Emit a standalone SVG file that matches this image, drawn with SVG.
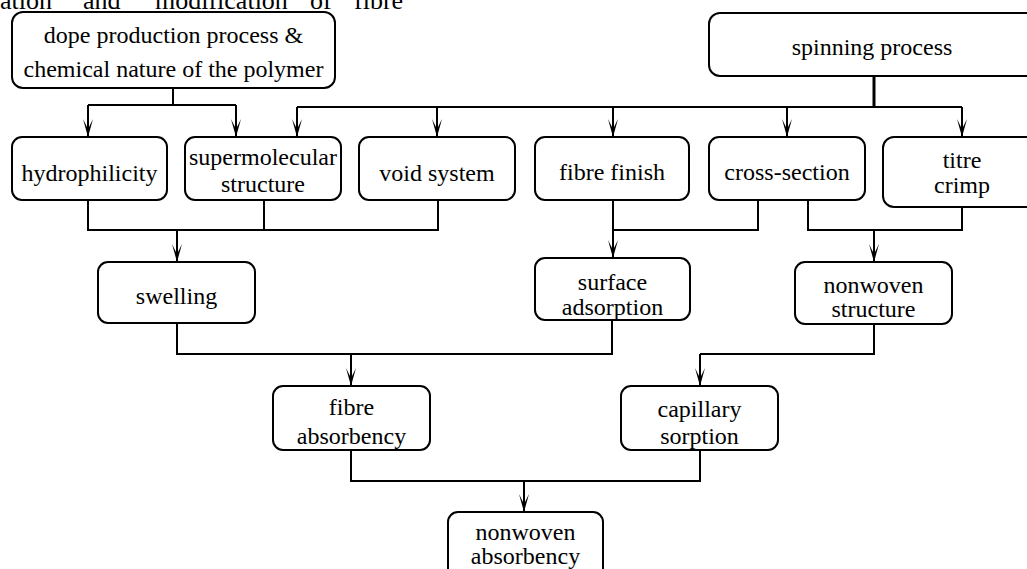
<svg xmlns="http://www.w3.org/2000/svg" width="1027" height="569" viewBox="0 0 1027 569">
<style>
.box{fill:#fff;stroke:#000;stroke-width:2}
.t{font-family:"Liberation Serif","Times New Roman",serif;font-size:24px;fill:#000;text-anchor:middle}
.cap{font-family:"Liberation Serif","Times New Roman",serif;font-size:26px;fill:#000}
.c{fill:none;stroke:#000;stroke-width:2}
.a{fill:none;stroke:#000;stroke-width:2;marker-end:url(#arr)}
</style>
<defs>
<marker id="arr" markerUnits="userSpaceOnUse" viewBox="-19 -6 21 12" refX="0" refY="0" markerWidth="21" markerHeight="12" orient="auto">
<path d="M0,0 L-18,-5 L-8,0 L-18,5 Z" fill="#000"/>
</marker>
<clipPath id="clipSurf"><rect x="535" y="258" width="155" height="62"/></clipPath>
<clipPath id="clipFA"><rect x="273" y="386" width="157" height="64"/></clipPath>
<clipPath id="clipCap"><rect x="621" y="386" width="157" height="64"/></clipPath>
</defs>
<rect width="1027" height="569" fill="#fff"/>
<g id="caption" class="cap">
<text x="0" y="9">ation</text>
<text x="83" y="9">and</text>
<text x="155" y="9">modification</text>
<text x="310" y="9">of</text>
<text x="354" y="9">fibre</text>
</g>
<g id="connectors">
<path class="c" d="M173,88 V105 M88,105 H236"/>
<path class="a" d="M88,105 V137"/>
<path class="a" d="M236,105 V137"/>
<path d="M874,76 V107" fill="none" stroke="#000" stroke-width="3"/>
<path class="c" d="M297,107 H962"/>
<path class="a" d="M297,107 V137"/>
<path class="a" d="M437,107 V137"/>
<path class="a" d="M613,107 V137"/>
<path class="a" d="M787,107 V137"/>
<path class="a" d="M962,107 V137"/>
<path class="c" d="M88,200 V230 H438 V200 M264,200 V230"/>
<path class="a" d="M177,230 V262"/>
<path class="c" d="M758,200 V230 H613"/>
<path class="a" d="M613,200 V258"/>
<path class="c" d="M808,200 V230 H962 V207"/>
<path class="a" d="M874,230 V262"/>
<path class="c" d="M177,323 V354 H612 V320"/>
<path class="a" d="M351,354 V386"/>
<path class="c" d="M874,324 V354 H700"/>
<path class="a" d="M700,354 V386"/>
<path class="c" d="M351,450 V481 H700 V450"/>
<path class="a" d="M524,481 V512"/>
</g>
<g id="n-dope"><rect class="box" x="12" y="12" width="323" height="76" rx="11"/><text class="t" x="173.5" y="43">dope production process &amp;</text><text class="t" x="173.5" y="77">chemical nature of the polymer</text></g>
<g id="n-spinning"><rect class="box" x="709" y="13" width="332" height="63" rx="11"/><text class="t" x="872" y="55">spinning process</text></g>
<g id="n-hydro"><rect class="box" x="12" y="137" width="155" height="63" rx="10"/><text class="t" x="89.5" y="181">hydrophilicity</text></g>
<g id="n-super"><rect class="box" x="185" y="137" width="156" height="63" rx="10"/><text class="t" x="263" y="165">supermolecular</text><text class="t" x="263" y="192">structure</text></g>
<g id="n-void"><rect class="box" x="359" y="137" width="156" height="63" rx="10"/><text class="t" x="437" y="181">void system</text></g>
<g id="n-finish"><rect class="box" x="535" y="137" width="154" height="63" rx="10"/><text class="t" x="612" y="180">fibre finish</text></g>
<g id="n-cross"><rect class="box" x="709" y="137" width="156" height="63" rx="10"/><text class="t" x="787" y="180">cross-section</text></g>
<g id="n-titre"><rect class="box" x="883" y="137" width="158" height="70" rx="11"/><text class="t" x="962" y="168">titre</text><text class="t" x="962" y="193">crimp</text></g>
<g id="n-swelling"><rect class="box" x="98" y="262" width="157" height="61" rx="10"/><text class="t" x="176.5" y="304">swelling</text></g>
<g id="n-surface"><rect class="box" x="535" y="258" width="155" height="62" rx="10"/><g clip-path="url(#clipSurf)"><text class="t" x="612.5" y="290">surface</text><text class="t" x="612.5" y="315">adsorption</text></g></g>
<g id="n-nwstruct"><rect class="box" x="795" y="262" width="157" height="62" rx="10"/><text class="t" x="873.5" y="293">nonwoven</text><text class="t" x="873.5" y="317">structure</text></g>
<g id="n-fibreabs"><rect class="box" x="273" y="386" width="157" height="64" rx="10"/><g clip-path="url(#clipFA)"><text class="t" x="351.5" y="415">fibre</text><text class="t" x="351.5" y="444">absorbency</text></g></g>
<g id="n-capillary"><rect class="box" x="621" y="386" width="157" height="64" rx="10"/><g clip-path="url(#clipCap)"><text class="t" x="699.5" y="417">capillary</text><text class="t" x="699.5" y="444">sorption</text></g></g>
<g id="n-nwabs"><rect class="box" x="448" y="512" width="155" height="70" rx="10"/><text class="t" x="525.5" y="540">nonwoven</text><text class="t" x="525.5" y="564">absorbency</text></g>
</svg>
